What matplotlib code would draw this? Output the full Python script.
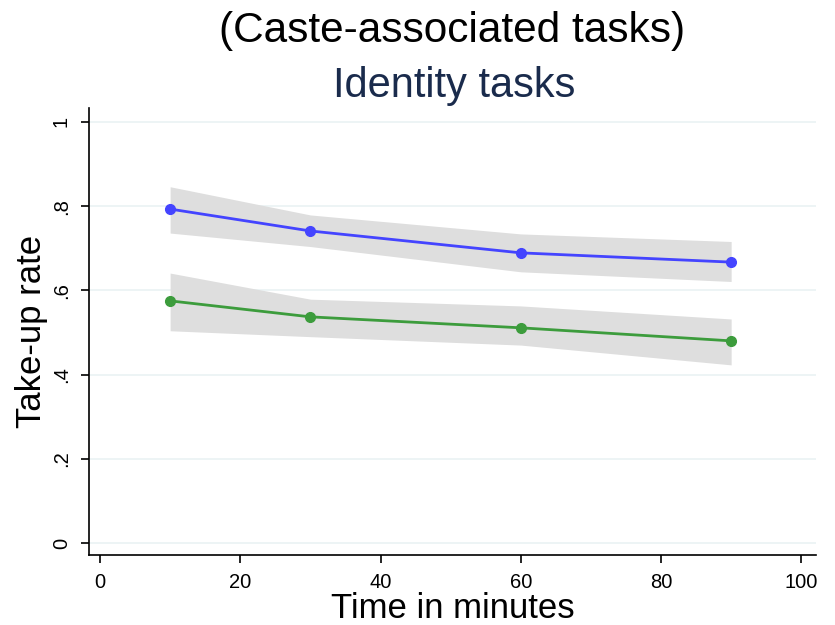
import matplotlib
matplotlib.use("Agg")
import matplotlib.pyplot as plt

plt.rcParams['font.family'] = ['Liberation Sans', 'DejaVu Sans']

minutes = [10, 30, 60, 90]
blue_rate = [0.793, 0.741, 0.689, 0.667]
blue_lo = [0.736, 0.704, 0.644, 0.621]
blue_hi = [0.846, 0.779, 0.734, 0.716]
green_rate = [0.575, 0.537, 0.511, 0.480]
green_lo = [0.504, 0.490, 0.470, 0.423]
green_hi = [0.641, 0.579, 0.563, 0.532]

yticks = [0, 0.2, 0.4, 0.6, 0.8, 1.0]
ytick_labels = ["0", ".2", ".4", ".6", ".8", "1"]
xticks = [0, 20, 40, 60, 80, 100]

W, H = 835, 625
L, R, T, B = 89, 816, 108, 555
fig = plt.figure(figsize=(W/100, H/100), dpi=100)
ax = fig.add_axes([L/W, 1 - B/H, (R-L)/W, (B-T)/H])

ax.set_xlim(-1.57, 102.1)
ax.set_ylim(-0.0285, 1.033)

for y in yticks:
    ax.axhline(y, color='#EAF2F3', lw=1.2, zorder=0)

ax.fill_between(minutes, blue_lo, blue_hi, color='#DEDEDE', lw=0, zorder=1)
ax.fill_between(minutes, green_lo, green_hi, color='#DEDEDE', lw=0, zorder=1)
ax.plot(minutes, blue_rate, color='#4444FF', lw=2, marker='o', ms=7, zorder=3)
ax.plot(minutes, green_rate, color='#3C9C3C', lw=2, marker='o', ms=7, zorder=3)

ax.spines['top'].set_visible(False)
ax.spines['right'].set_visible(False)
ax.spines['left'].set_linewidth(1.2)
ax.spines['bottom'].set_linewidth(1.2)

ax.set_yticks(yticks)
ax.set_yticklabels(ytick_labels, rotation=90, va='center')
ax.set_xticks(xticks)
ax.set_xticklabels([str(x) for x in xticks])
ax.tick_params(axis='both', direction='out', length=6, width=1.2, color='black',
               pad=7, labelsize=14.5)

ax.set_ylabel("Take-up rate", fontsize=25)
ax.yaxis.set_label_coords((48 - L)/(R - L), 0.5)
ax.set_xlabel("Time in minutes", fontsize=25)
ax.xaxis.set_label_coords(0.5, (B - 618)/(B - T))
ax.xaxis.label.set_va('baseline')

fig.text(452/W, 1 - 42/H, "(Caste-associated tasks)", ha='center', va='baseline', fontsize=30.5, color='black')
fig.text(454/W, 1 - 97/H, "Identity tasks", ha='center', va='baseline', fontsize=30, color='#1A2B4C')

fig.savefig("out.png", dpi=100)
